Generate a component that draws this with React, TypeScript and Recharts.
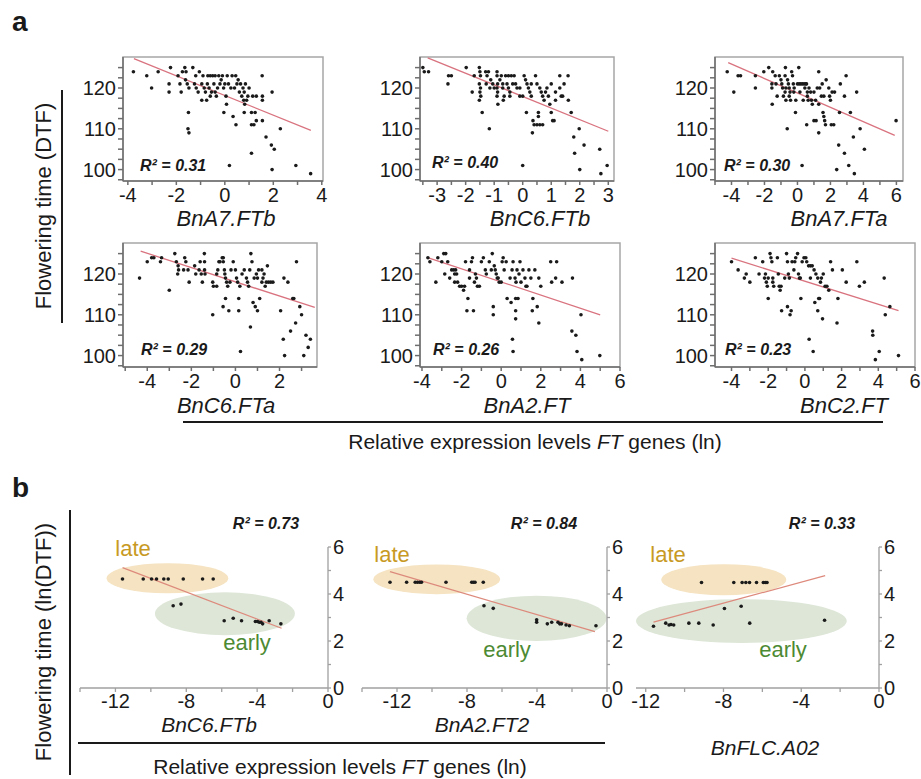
import React from "react";
import { ScatterChart, Scatter, XAxis, YAxis, ReferenceArea, ReferenceLine } from "recharts";

type Pt = [number, number];
type Box = [number, number, number, number];

const FONT = "'Liberation Sans', Arial, Helvetica, sans-serif";
const INK = "#1a1a1a";
const FIT_A = "#d9737f";
const FIT_B = "#dd8a7c";
const LATE = "#c89a24";
const EARLY = "#4d8a34";
const LATE_FILL = "#f5e3c1";
const EARLY_FILL = "#dde6d7";

// ---------- panel a: DTF vs FT expression ----------
const yDomainA: [number, number] = [97.2, 127.6];
const yTicksA = [97.5, 100, 102.5, 105, 107.5, 110, 112.5, 115, 117.5, 120, 122.5, 125];
const yLabelsA = [100, 110, 120];

const ptsA7FTb: Pt[] = [
  [-3.77, 124], [-3.22, 123], [-3.02, 120], [-2.75, 124], [-2.24, 125], [-2.3, 121], [-2.3, 119], [-1.93, 123],
  [-1.85, 121], [-1.8, 119], [-1.75, 124], [-1.65, 125], [-1.6, 124], [-1.62, 122], [-1.55, 121], [-1.48, 120],
  [-1.5, 114], [-1.52, 110], [-1.48, 109], [-1.32, 125], [-1.2, 123], [-1.25, 121], [-1.18, 120], [-1.05, 124],
  [-1.1, 119], [-0.95, 117], [-0.95, 121], [-0.9, 123], [-0.85, 120], [-0.8, 119], [-0.75, 117], [-0.7, 123],
  [-0.72, 121], [-0.65, 120], [-0.6, 123], [-0.6, 118], [-0.55, 119], [-0.5, 123], [-0.45, 121], [-0.4, 123],
  [-0.4, 119], [-0.35, 118], [-0.3, 120], [-0.25, 123], [-0.2, 121], [-0.15, 122], [-0.1, 123], [-0.05, 120],
  [-0.04, 114], [0.0, 121], [0.05, 118], [0.07, 116], [0.1, 123], [0.15, 121], [0.19, 101], [0.25, 120],
  [0.3, 123], [0.34, 113], [0.4, 120], [0.46, 111], [0.45, 123], [0.5, 121], [0.55, 122], [0.6, 119],
  [0.65, 121], [0.7, 118], [0.75, 120], [0.78, 117], [0.8, 119], [0.82, 116], [0.8, 114], [0.85, 121],
  [0.9, 117], [0.95, 118], [1.0, 120], [1.1, 114], [1.1, 111], [1.15, 118], [1.2, 111], [1.25, 114],
  [1.3, 112], [1.1, 104], [1.3, 118], [1.54, 123], [1.55, 118], [1.55, 117], [1.55, 112], [1.7, 108],
  [1.95, 119], [1.92, 106], [2.04, 105], [1.95, 100], [2.29, 110], [2.93, 101], [3.54, 99],
];
const fitA7FTb: Pt[] = [[-3.75, 127.2], [3.55, 109.6]];

const ptsC6FTb: Pt[] = [
  [-3.5, 125], [-3.45, 124], [-3.3, 124], [-2.62, 121], [-2.6, 123], [-2.5, 123], [-1.98, 125], [-1.77, 119],
  [-1.7, 123], [-1.52, 125], [-1.5, 124], [-1.48, 123], [-1.52, 121], [-1.48, 120], [-1.5, 119], [-1.47, 118],
  [-1.52, 117], [-1.42, 114], [-1.3, 124], [-1.25, 123], [-1.2, 124], [-1.28, 121], [-1.15, 120], [-1.12, 122],
  [-1.05, 121], [-1.0, 120], [-1.17, 110], [-0.87, 116], [-0.9, 124], [-0.9, 123], [-0.88, 121], [-0.9, 120],
  [-0.88, 119], [-0.9, 118], [-0.8, 122], [-0.75, 123], [-0.7, 121], [-0.7, 120], [-0.68, 117], [-0.65, 118],
  [-0.6, 123], [-0.5, 123], [-0.4, 123], [-0.3, 123], [-0.55, 121], [-0.5, 120], [-0.45, 119], [-0.45, 118],
  [-0.35, 121], [-0.25, 121], [0.0, 101], [0.13, 114], [-0.2, 120], [-0.1, 120], [-0.1, 118], [0.0, 118],
  [0.05, 123], [0.1, 122], [0.15, 121], [0.2, 120], [0.25, 119], [0.3, 118], [0.3, 121], [0.36, 112],
  [0.34, 109], [0.4, 111], [0.5, 111], [0.55, 114], [0.55, 113], [0.6, 111], [0.7, 111], [0.45, 123],
  [0.5, 121], [0.6, 120], [0.65, 119], [0.7, 118], [0.75, 117], [0.8, 119], [0.85, 120], [0.9, 118],
  [0.95, 116], [1.0, 114], [1.05, 112], [1.1, 112], [1.0, 121], [1.15, 119], [1.15, 117], [1.3, 123],
  [1.3, 120], [1.35, 118], [1.4, 118], [1.45, 121], [1.6, 117], [1.59, 123], [1.7, 114], [1.79, 108],
  [1.82, 104], [1.98, 110], [2.0, 100], [2.15, 106], [2.7, 105], [2.74, 99], [2.96, 101],
];
const fitC6FTb: Pt[] = [[-3.33, 127.4], [3.0, 109.4]];

const ptsA7FTa: Pt[] = [
  [-4.26, 124], [-3.86, 119], [-3.6, 123], [-3.45, 123], [-2.55, 123], [-2.55, 120], [-2.04, 124], [-1.74, 125],
  [-1.55, 121], [-1.55, 120], [-1.53, 116], [-1.5, 124], [-1.35, 123], [-1.3, 121], [-1.23, 118], [-1.1, 123],
  [-1.0, 122], [-0.95, 121], [-0.9, 120], [-0.85, 118], [-0.73, 125], [-0.75, 123], [-0.7, 120], [-0.75, 119],
  [-0.7, 117], [-0.62, 110], [-0.6, 122], [-0.55, 121], [-0.5, 120], [-0.45, 119], [-0.5, 118], [-0.42, 117],
  [-0.35, 124], [-0.3, 123], [-0.25, 121], [-0.2, 120], [-0.22, 119], [-0.12, 114], [-0.1, 117], [0.0, 121],
  [0.08, 125], [0.1, 121], [0.15, 119], [0.2, 121], [0.28, 101], [0.3, 121], [0.35, 117], [0.4, 121],
  [0.45, 120], [0.5, 121], [0.55, 121], [0.56, 111], [0.6, 118], [0.6, 119], [0.65, 117], [0.7, 120],
  [0.8, 119], [0.85, 117], [0.9, 116], [1.0, 119], [1.0, 112], [1.1, 117], [1.13, 112], [1.2, 120],
  [1.29, 124], [1.29, 116], [1.29, 109], [1.35, 120], [1.45, 118], [1.5, 121], [1.55, 114], [1.6, 113],
  [1.6, 118], [1.65, 112], [1.7, 111], [1.74, 122], [1.9, 120], [1.95, 118], [2.0, 117], [2.05, 111],
  [2.1, 119], [2.2, 111], [2.25, 119], [2.38, 100], [2.5, 106], [2.55, 114], [2.6, 121], [2.85, 118],
  [2.85, 104], [2.95, 123], [3.11, 101], [3.21, 114], [3.39, 108], [3.45, 99], [3.59, 119], [3.8, 110],
  [4.06, 105], [5.98, 112],
];
const fitA7FTa: Pt[] = [[-4.2, 126.2], [5.9, 108.4]];

const ptsC6FTa: Pt[] = [
  [-4.35, 119], [-4.0, 123], [-3.8, 124], [-3.7, 124], [-3.4, 123], [-3.35, 124], [-3.0, 116], [-2.75, 125],
  [-2.68, 123], [-2.6, 122], [-2.58, 121], [-2.62, 120], [-2.3, 124], [-2.25, 123], [-2.35, 121], [-2.15, 121],
  [-2.1, 118], [-1.85, 122], [-1.8, 120], [-1.65, 121], [-1.55, 120], [-1.6, 123], [-1.5, 118], [-1.4, 123],
  [-1.4, 121], [-1.38, 120], [-1.41, 125], [-1.03, 110], [-1.03, 118], [-1.0, 117], [-0.85, 117], [-0.85, 120],
  [-0.8, 121], [-0.75, 123], [-0.7, 123], [-0.6, 124], [-0.55, 124], [-0.55, 123], [-0.5, 121], [-0.48, 120],
  [-0.45, 119], [-0.45, 114], [-0.56, 112], [-0.4, 118], [-0.35, 117], [-0.3, 111], [-0.25, 118], [-0.2, 121],
  [-0.1, 123], [0.0, 121], [0.05, 119], [0.15, 114], [0.15, 111], [0.23, 101], [0.1, 118], [0.2, 117],
  [0.3, 120], [0.4, 121], [0.5, 119], [0.55, 118], [0.6, 117], [0.65, 121], [0.7, 125], [0.68, 107],
  [0.75, 123], [0.8, 113], [0.9, 112], [1.0, 111], [1.1, 114], [0.85, 119], [0.95, 120], [1.0, 119],
  [1.05, 121], [1.2, 118], [1.2, 121], [1.25, 119], [1.3, 120], [1.35, 117], [1.4, 118], [1.45, 122],
  [1.5, 118], [1.6, 118], [1.7, 118], [2.05, 111], [2.2, 119], [2.17, 104], [2.23, 100], [2.38, 118],
  [2.6, 114], [2.65, 114], [2.77, 123], [2.73, 108], [2.5, 106], [2.92, 112], [3.0, 110], [3.2, 105],
  [3.3, 102], [3.1, 100], [3.4, 104],
];
const fitC6FTa: Pt[] = [[-4.3, 125.6], [3.6, 111.8]];

const ptsA2FT: Pt[] = [
  [-3.7, 124], [-3.6, 123], [-3.3, 118], [-3.2, 124], [-3.0, 123], [-2.9, 125], [-2.8, 125], [-2.85, 120],
  [-2.7, 123], [-2.6, 119], [-2.5, 121], [-2.4, 121], [-2.35, 120], [-2.3, 121], [-2.35, 118], [-2.2, 118],
  [-2.25, 120], [-2.1, 117], [-2.0, 117], [-1.9, 116], [-1.85, 117], [-1.68, 114], [-1.73, 111], [-1.4, 111],
  [-1.8, 123], [-1.6, 121], [-1.5, 123], [-1.45, 124], [-1.6, 119], [-1.35, 118], [-1.3, 120], [-1.25, 119],
  [-1.2, 117], [-1.1, 117], [-1.0, 123], [-0.9, 124], [-0.8, 121], [-0.75, 120], [-0.4, 110], [-0.4, 112],
  [-0.6, 123], [-0.5, 121], [-0.45, 125], [-0.35, 122], [-0.3, 121], [-0.25, 120], [-0.2, 119], [-0.15, 119],
  [-0.1, 118], [0.0, 118], [0.05, 123], [0.1, 124], [0.15, 121], [0.25, 123], [0.3, 114], [0.5, 113],
  [0.57, 104], [0.6, 101], [0.45, 119], [0.55, 121], [0.6, 123], [0.7, 119], [0.75, 118], [0.8, 121],
  [0.9, 120], [0.95, 123], [1.0, 118], [0.73, 111], [0.73, 109], [0.73, 114], [0.85, 114], [1.1, 121],
  [1.2, 119], [1.25, 117], [1.3, 117], [1.4, 121], [1.5, 119], [1.57, 111], [1.6, 114], [1.7, 121],
  [1.82, 112], [1.9, 108], [1.9, 119], [2.0, 117], [2.5, 123], [2.55, 118], [2.8, 123], [2.75, 119],
  [3.07, 118], [3.57, 106], [3.6, 119], [3.77, 105], [3.83, 101], [4.03, 110], [4.07, 99], [4.98, 100],
];
const fitA2FT: Pt[] = [[-3.75, 124.1], [5.0, 110]];

const ptsC2FT: Pt[] = [
  [-4.0, 123], [-3.64, 121], [-3.3, 119], [-3.2, 120], [-3.0, 118], [-2.7, 124], [-2.5, 120], [-2.3, 123],
  [-2.2, 119], [-2.15, 120], [-2.1, 118], [-2.05, 117], [-2.0, 114], [-2.0, 119], [-1.9, 125], [-1.85, 124],
  [-1.8, 123], [-1.75, 119], [-1.7, 117], [-1.75, 118], [-1.5, 124], [-1.45, 120], [-1.4, 117], [-1.35, 116],
  [-1.27, 111], [-1.3, 117], [-1.1, 119], [-1.0, 125], [-0.95, 123], [-0.9, 120], [-0.85, 119], [-0.95, 112],
  [-0.81, 110], [-0.75, 111], [-0.7, 123], [-0.6, 121], [-0.55, 123], [-0.5, 124], [-0.4, 125], [-0.35, 120],
  [-0.3, 119], [-0.25, 119], [-0.22, 114], [-0.15, 123], [-0.05, 124], [0.05, 124], [0.1, 123], [0.23, 104],
  [0.45, 101], [0.2, 122], [0.3, 122], [0.3, 119], [0.4, 122], [0.5, 121], [0.54, 113], [0.6, 120],
  [0.7, 119], [0.7, 111], [0.75, 114], [0.8, 114], [0.85, 118], [0.9, 119], [0.96, 109], [1.0, 120],
  [1.1, 117], [1.2, 117], [1.3, 116], [1.4, 123], [1.5, 121], [1.8, 114], [1.75, 108], [2.04, 121],
  [2.25, 118], [2.83, 123], [2.97, 117], [3.24, 118], [3.69, 106], [3.7, 105], [3.84, 99], [4.05, 101],
  [4.32, 119], [4.38, 110], [4.63, 112], [5.1, 100],
];
const fitC2FT: Pt[] = [[-4.0, 123.9], [5.1, 111]];

// ---------- panel b: ln(DTF) vs ln expression ----------
const yDomainB: [number, number] = [0, 6];
const yTicksB = [0, 1, 2, 3, 4, 5, 6];
const yLabelsB = [0, 2, 4, 6];
const xLabelsB = [-12, -8, -4, 0];

const ptsBC6FTb: Pt[] = [
  [-11.6, 4.64], [-10.43, 4.64], [-9.96, 4.64], [-9.68, 4.64], [-9.27, 4.64], [-9.02, 4.64], [-8.17, 4.64],
  [-7.08, 4.64], [-6.48, 4.64], [-8.74, 3.5], [-8.3, 3.57], [-5.86, 2.86], [-5.35, 2.97], [-4.88, 2.86],
  [-4.1, 2.83], [-3.98, 2.83], [-3.88, 2.8], [-3.78, 2.8], [-3.69, 2.73], [-3.32, 2.86], [-2.66, 2.73],
];
const fitBC6FTb: Pt[] = [[-11.6, 5.12], [-2.62, 2.54]];
const lateBC6FTb: Box = [-12.5, -5.63, 4.03, 5.31];
const earlyBC6FTb: Box = [-9.77, -1.87, 2.25, 4.07];

const ptsBA2FT2: Pt[] = [
  [-12.4, 4.5], [-11.45, 4.5], [-10.96, 4.5], [-10.83, 4.5], [-10.7, 4.5], [-10.6, 4.5], [-9.2, 4.5],
  [-7.73, 4.5], [-7.63, 4.5], [-7.54, 4.5], [-7.07, 4.5], [-7.03, 3.5], [-6.5, 3.39], [-4.02, 2.9],
  [-4.02, 2.8], [-3.41, 2.73], [-3.16, 2.8], [-2.8, 2.8], [-2.7, 2.73], [-2.6, 2.73], [-2.34, 2.68],
  [-2.15, 2.65], [-0.63, 2.65],
];
const fitBA2FT2: Pt[] = [[-12.4, 4.95], [-0.69, 2.4]];
const lateBA2FT2: Box = [-13.35, -6.11, 3.99, 5.26];
const earlyBA2FT2: Box = [-8.02, -0.02, 2.0, 3.93];

const ptsBFLC: Pt[] = [
  [-11.6, 2.63], [-10.97, 2.76], [-10.8, 2.68], [-10.7, 2.7], [-10.56, 2.68], [-9.78, 2.76], [-9.27, 2.76],
  [-8.53, 2.68], [-9.13, 4.49], [-7.47, 4.49], [-7.04, 4.49], [-6.85, 4.49], [-6.66, 4.49], [-6.3, 4.49],
  [-5.95, 4.49], [-5.85, 4.49], [-5.76, 4.49], [-7.95, 3.38], [-7.09, 3.48], [-6.65, 2.76], [-2.8, 2.88],
];
const fitBFLC: Pt[] = [[-11.6, 2.8], [-2.77, 4.78]];
const lateBFLC: Box = [-11.2, -4.77, 3.95, 5.27];
const earlyBFLC: Box = [-12.5, -1.66, 1.92, 3.78];

const rng = (a: number, b: number, s: number) => {
  const out: number[] = [];
  for (let v = a; v <= b + 1e-9; v += s) out.push(Math.round(v * 100) / 100);
  return out;
};
const labelFmt = (labels: number[]) => (v: number) => (labels.includes(v) ? String(v) : "");

function Dot(props: any) {
  const { cx, cy } = props;
  if (cx == null || cy == null) return null;
  return <circle cx={cx} cy={cy} r={1.8} fill={INK} />;
}

const tickStyle = { fill: INK, fontSize: 20, fontFamily: FONT };

type AProps = {
  left: number;
  top: number;
  w: number;
  xDomain: [number, number];
  xTicks: number[];
  xLabels: number[];
  points: Pt[];
  fit: Pt[];
};

const A_H = 124;
const A_YW = 52;
const A_MT = 4;
const A_MR = 14;
const A_XH = 34;

function ScatterA({ left, top, w, xDomain, xTicks, xLabels, points, fit }: AProps) {
  const data = points.map(([x, y]) => ({ x, y }));
  return (
    <div style={{ position: "absolute", left: left - A_YW, top: top - A_MT }}>
      <ScatterChart
        width={A_YW + w + A_MR}
        height={A_MT + A_H + A_XH}
        margin={{ top: A_MT, right: A_MR, bottom: 0, left: 0 }}
      >
        <XAxis
          type="number"
          dataKey="x"
          domain={xDomain}
          ticks={xTicks}
          interval={0}
          allowDataOverflow
          tickFormatter={labelFmt(xLabels)}
          height={A_XH}
          tickSize={4}
          tickMargin={3}
          stroke="#6e6e6e"
          strokeWidth={1.5}
          tick={tickStyle}
        />
        <YAxis
          type="number"
          dataKey="y"
          domain={yDomainA}
          ticks={yTicksA}
          interval={0}
          allowDataOverflow
          tickFormatter={labelFmt(yLabelsA)}
          width={A_YW}
          tickSize={5}
          tickMargin={2}
          stroke="#6e6e6e"
          strokeWidth={1.5}
          tick={tickStyle}
        />
        <ReferenceArea
          x1={xDomain[0]}
          x2={xDomain[1]}
          y1={yDomainA[0]}
          y2={yDomainA[1]}
          fill="none"
          stroke="#a6a6a6"
          strokeWidth={1.5}
          ifOverflow="visible"
        />
        <ReferenceLine
          segment={[{ x: fit[0][0], y: fit[0][1] }, { x: fit[1][0], y: fit[1][1] }]}
          stroke={FIT_A}
          strokeWidth={1.3}
          ifOverflow="visible"
        />
        <Scatter data={data} shape={Dot} isAnimationActive={false} />
      </ScatterChart>
    </div>
  );
}

type BProps = {
  left: number;
  top: number;
  w: number;
  xDomain: [number, number];
  xTicks: number[];
  points: Pt[];
  fit: Pt[];
  late: Box;
  early: Box;
};

const B_H = 141;
const B_YW = 32;
const B_MT = 14;
const B_ML = 6;
const B_XH = 30;

const ellipse = (fill: string) => (p: any) => (
  <ellipse cx={p.x + p.width / 2} cy={p.y + p.height / 2} rx={p.width / 2} ry={p.height / 2} fill={fill} />
);

function ScatterB({ left, top, w, xDomain, xTicks, points, fit, late, early }: BProps) {
  const data = points.map(([x, y]) => ({ x, y }));
  return (
    <div style={{ position: "absolute", left: left - B_ML, top: top - B_MT }}>
      <ScatterChart
        width={B_ML + w + B_YW}
        height={B_MT + B_H + B_XH}
        margin={{ top: B_MT, right: 0, bottom: 0, left: B_ML }}
      >
        <ReferenceArea x1={late[0]} x2={late[1]} y1={late[2]} y2={late[3]} shape={ellipse(LATE_FILL)} ifOverflow="visible" />
        <ReferenceArea x1={early[0]} x2={early[1]} y1={early[2]} y2={early[3]} shape={ellipse(EARLY_FILL)} ifOverflow="visible" />
        <XAxis
          type="number"
          dataKey="x"
          domain={xDomain}
          ticks={xTicks}
          interval={0}
          allowDataOverflow
          tickFormatter={labelFmt(xLabelsB)}
          height={B_XH}
          tickSize={4}
          tickMargin={2}
          stroke="#a0a0a0"
          strokeWidth={1.3}
          tick={tickStyle}
        />
        <YAxis
          type="number"
          dataKey="y"
          orientation="right"
          domain={yDomainB}
          ticks={yTicksB}
          interval={0}
          allowDataOverflow
          tickFormatter={labelFmt(yLabelsB)}
          width={B_YW}
          tickSize={3}
          tickMargin={2}
          stroke="#a0a0a0"
          strokeWidth={1.3}
          tick={tickStyle}
        />
        <ReferenceLine
          segment={[{ x: fit[0][0], y: fit[0][1] }, { x: fit[1][0], y: fit[1][1] }]}
          stroke={FIT_B}
          strokeWidth={1.2}
          ifOverflow="visible"
        />
        <Scatter data={data} shape={Dot} isAnimationActive={false} />
      </ScatterChart>
    </div>
  );
}

type TxtProps = {
  x: number;
  y: number;
  size?: number;
  anchor?: "start" | "middle" | "end";
  rotate?: number;
  bold?: boolean;
  italic?: boolean;
  color?: string;
  children: React.ReactNode;
};

function Txt({ x, y, size = 20, anchor = "middle", rotate = 0, bold, italic, color = INK, children }: TxtProps) {
  const tx = anchor === "start" ? "0" : anchor === "end" ? "-100%" : "-50%";
  return (
    <div
      style={{
        position: "absolute",
        left: x,
        top: y,
        transform: `translate(${tx}, -50%) rotate(${rotate}deg)`,
        fontSize: size,
        fontWeight: bold ? 700 : 400,
        fontStyle: italic ? "italic" : "normal",
        color,
        whiteSpace: "nowrap",
        lineHeight: 1,
      }}
    >
      {children}
    </div>
  );
}

const R2 = ({ x, y, v, anchor = "start" }: { x: number; y: number; v: string; anchor?: "start" | "middle" }) => (
  <Txt x={x} y={y} size={16} bold italic anchor={anchor}>
    R² = {v}
  </Txt>
);

export default function App() {
  return (
    <div
      style={{
        position: "absolute",
        left: 0,
        top: 0,
        width: 921,
        height: 779,
        overflow: "hidden",
        background: "#ffffff",
        fontFamily: FONT,
        color: INK,
      }}
    >
      {/* panel a, row 1 */}
      <ScatterA left={123} top={57} w={200} xDomain={[-4.2, 4.05]} xTicks={rng(-4, 4, 1)} xLabels={[-4, -2, 0, 2, 4]} points={ptsA7FTb} fit={fitA7FTb} />
      <ScatterA left={420} top={57} w={194} xDomain={[-3.6, 3.2]} xTicks={rng(-3.5, 3, 0.5)} xLabels={[-3, -2, -1, 0, 1, 2, 3]} points={ptsC6FTb} fit={fitC6FTb} />
      <ScatterA left={715} top={57} w={188} xDomain={[-5, 6.4]} xTicks={rng(-5, 6, 1)} xLabels={[-4, -2, 0, 2, 4, 6]} points={ptsA7FTa} fit={fitA7FTa} />
      {/* panel a, row 2 */}
      <ScatterA left={123} top={243} w={194} xDomain={[-5.1, 3.7]} xTicks={rng(-5, 3, 1)} xLabels={[-4, -2, 0, 2]} points={ptsC6FTa} fit={fitC6FTa} />
      <ScatterA left={420} top={243} w={200} xDomain={[-4.1, 6]} xTicks={rng(-4, 6, 1)} xLabels={[-4, -2, 0, 2, 4, 6]} points={ptsA2FT} fit={fitA2FT} />
      <ScatterA left={715} top={243} w={200} xDomain={[-4.9, 6]} xTicks={rng(-4, 6, 1)} xLabels={[-4, -2, 0, 2, 4, 6]} points={ptsC2FT} fit={fitC2FT} />

      {/* panel b */}
      <ScatterB left={80} top={547} w={248} xDomain={[-14, 0]} xTicks={rng(-14, 0, 2)} points={ptsBC6FTb} fit={fitBC6FTb} late={lateBC6FTb} early={earlyBC6FTb} />
      <ScatterB left={362} top={547} w={245} xDomain={[-14, 0]} xTicks={rng(-14, 0, 2)} points={ptsBA2FT2} fit={fitBA2FT2} late={lateBA2FT2} early={earlyBA2FT2} />
      <ScatterB left={636} top={547} w={243} xDomain={[-12.5, 0]} xTicks={rng(-12, 0, 2)} points={ptsBFLC} fit={fitBFLC} late={lateBFLC} early={earlyBFLC} />

      {/* panel letters */}
      <Txt x={12} y={22} size={28} bold anchor="start">a</Txt>
      <Txt x={12} y={488} size={28} bold anchor="start">b</Txt>

      {/* panel a annotations */}
      <Txt x={44} y={206} size={22} rotate={-90}>Flowering time (DTF)</Txt>
      <div style={{ position: "absolute", left: 61, top: 90, width: 1.5, height: 233, background: INK }} />
      <R2 x={140} y={166} v="0.31" />
      <R2 x={432} y={163} v="0.40" />
      <R2 x={724} y={166} v="0.30" />
      <R2 x={141} y={350} v="0.29" />
      <R2 x={433} y={350} v="0.26" />
      <R2 x={725} y={350} v="0.23" />
      <Txt x={226} y={219} size={22} italic>BnA7.FTb</Txt>
      <Txt x={540} y={219} size={22} italic>BnC6.FTb</Txt>
      <Txt x={839} y={219} size={22} italic>BnA7.FTa</Txt>
      <Txt x={226} y={406} size={22} italic>BnC6.FTa</Txt>
      <Txt x={527} y={406} size={22} italic>BnA2.FT</Txt>
      <Txt x={844} y={406} size={22} italic>BnC2.FT</Txt>
      <div style={{ position: "absolute", left: 183, top: 421, width: 700, height: 1.5, background: INK }} />
      <Txt x={535} y={441} size={21}>
        Relative expression levels <i>FT</i> genes (ln)
      </Txt>

      {/* panel b annotations */}
      <Txt x={44} y={642} size={22} rotate={-90}>Flowering time (ln(DTF))</Txt>
      <div style={{ position: "absolute", left: 69, top: 510, width: 1.5, height: 265, background: INK }} />
      <R2 x={266} y={524} v="0.73" anchor="middle" />
      <R2 x={544} y={524} v="0.84" anchor="middle" />
      <R2 x={822} y={524} v="0.33" anchor="middle" />
      <Txt x={133} y={549} size={22} color={LATE}>late</Txt>
      <Txt x={247} y={643} size={22} color={EARLY}>early</Txt>
      <Txt x={392} y={555} size={22} color={LATE}>late</Txt>
      <Txt x={507} y={650} size={22} color={EARLY}>early</Txt>
      <Txt x={668} y={555} size={22} color={LATE}>late</Txt>
      <Txt x={783} y={650} size={22} color={EARLY}>early</Txt>
      <Txt x={209} y={724} size={21} italic>BnC6.FTb</Txt>
      <Txt x={482} y={724} size={21} italic>BnA2.FT2</Txt>
      <Txt x={765} y={747} size={21} italic>BnFLC.A02</Txt>
      <div style={{ position: "absolute", left: 78, top: 742, width: 527, height: 1.5, background: INK }} />
      <Txt x={340} y={766} size={21}>
        Relative expression levels <i>FT</i> genes (ln)
      </Txt>
    </div>
  );
}
